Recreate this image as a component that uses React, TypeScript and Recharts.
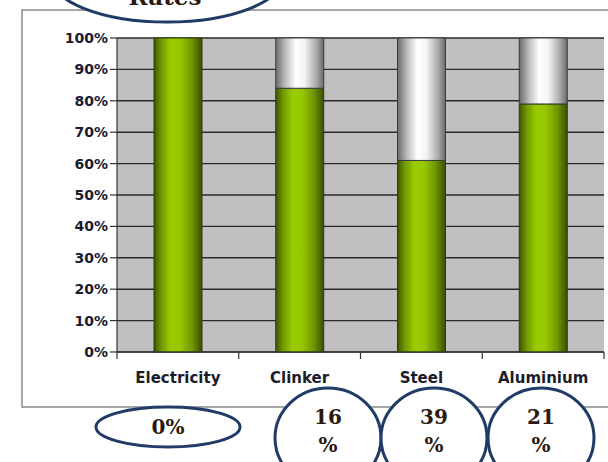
import React from 'react';
import { BarChart, Bar, XAxis, YAxis, CartesianGrid } from 'recharts';

const categories = ['Electricity', 'Clinker', 'Steel', 'Aluminium'];
const greenValues = [100, 84, 61, 79];
const remainderValues = [0, 16, 39, 21];
const yTicks = [0, 10, 20, 30, 40, 50, 60, 70, 80, 90, 100];
const annotationLabels = ['0%', '16', '39', '21'];
const topTitle = 'Rates';

const data = categories.map((name, i) => ({
  name,
  green: greenValues[i],
  rest: remainderValues[i],
}));

const W = 608;
const H = 462;
const sans = "'DejaVu Sans', Verdana, sans-serif";

const CategoryTick = (props: any) => {
  const { x, y, payload, index, visibleTicksCount } = props;
  const off = payload && payload.offset ? payload.offset : 0;
  const isLast = index === (visibleTicksCount ?? categories.length) - 1;
  return (
    <g>
      <line x1={x - off} x2={x - off} y1={y - 7} y2={y} stroke="#333" strokeWidth={1.2} />
      {isLast && <line x1={x + off} x2={x + off} y1={y - 7} y2={y} stroke="#333" strokeWidth={1.2} />}
      <text
        x={x}
        y={y + 24}
        textAnchor="middle"
        fontFamily={sans}
        fontWeight="bold"
        fontSize={15}
        fill="#1c1c28"
      >
        {payload.value}
      </text>
    </g>
  );
};

const serif = "'DejaVu Serif', 'Liberation Serif', serif";
const navy = '#1f3b66';
const txtCol = '#2b1a10';

export default function App() {
  return (
    <div style={{ position: 'absolute', left: 0, top: 0, width: W, height: H, background: '#fff', overflow: 'hidden' }}>
      <svg width={W} height={H} style={{ position: 'absolute', left: 0, top: 0 }}>
        <rect x={22} y={10} width={620} height={397} fill="#fff" stroke="#8a8a8a" strokeWidth={1.5} />
      </svg>
      <div style={{ position: 'absolute', left: 0, top: 0 }}>
        <BarChart
          width={W}
          height={H}
          data={data}
          margin={{ top: 38, right: 4, bottom: 80, left: 57 }}
          barSize={48}
        >
          <defs>
            <linearGradient id="greenCyl" x1="0" y1="0" x2="1" y2="0">
              <stop offset="0%" stopColor="#3f5400" />
              <stop offset="15%" stopColor="#6f9800" />
              <stop offset="35%" stopColor="#99cc00" />
              <stop offset="55%" stopColor="#96c800" />
              <stop offset="80%" stopColor="#6e9400" />
              <stop offset="100%" stopColor="#3a4d00" />
            </linearGradient>
            <linearGradient id="whiteCyl" x1="0" y1="0" x2="1" y2="0">
              <stop offset="0%" stopColor="#6a6a6a" />
              <stop offset="20%" stopColor="#bdbdbd" />
              <stop offset="42%" stopColor="#ffffff" />
              <stop offset="60%" stopColor="#f4f4f4" />
              <stop offset="85%" stopColor="#a8a8a8" />
              <stop offset="100%" stopColor="#6a6a6a" />
            </linearGradient>
          </defs>
          <CartesianGrid
            vertical={false}
            stroke="#2a2a2a"
            strokeWidth={1.4}
            fill="#c0c0c0"
            fillOpacity={1}
          />
          <XAxis
            dataKey="name"
            height={30}
            tickLine={false}
            tickSize={7}
            tickMargin={0}
            axisLine={{ stroke: '#333', strokeWidth: 1.2 }}
            tick={<CategoryTick />}
            interval={0}
          />
          <YAxis
            width={60}
            domain={[0, 100]}
            ticks={yTicks}
            interval={0}
            tickSize={7}
            tickMargin={2}
            tickFormatter={(v: number) => `${v}%`}
            axisLine={{ stroke: '#333', strokeWidth: 1.2 }}
            tickLine={{ stroke: '#333', strokeWidth: 1.2 }}
            tick={{ fontFamily: sans, fontWeight: 'bold', fontSize: 14, fill: '#1c1c30' }}
          />
          <Bar dataKey="green" stackId="a" fill="url(#greenCyl)" stroke="#2f3a10" strokeWidth={1} isAnimationActive={false} />
          <Bar dataKey="rest" stackId="a" fill="url(#whiteCyl)" stroke="#3a3a3a" strokeWidth={1} isAnimationActive={false} />
        </BarChart>
      </div>
      <svg width={W} height={H} style={{ position: 'absolute', left: 0, top: 0, pointerEvents: 'none' }}>
        <ellipse cx={167} cy={-24} rx={117} ry={46} fill="#fff" stroke={navy} strokeWidth={3} />
        <text x={165} y={5} textAnchor="middle" fontFamily={serif} fontWeight="bold" fontSize={23} fill={txtCol}>
          {topTitle}
        </text>
        <ellipse cx={168} cy={427} rx={72} ry={20} fill="#fff" stroke={navy} strokeWidth={3} />
        <text x={168} y={434} textAnchor="middle" fontFamily={serif} fontWeight="bold" fontSize={20} fill={txtCol}>
          {annotationLabels[0]}
        </text>
        {[328, 434, 541].map((cx, i) => (
          <g key={cx}>
            <ellipse cx={cx} cy={438} rx={53} ry={50} fill="#fff" stroke={navy} strokeWidth={3} />
            <text x={cx} y={424} textAnchor="middle" fontFamily={serif} fontWeight="bold" fontSize={20} fill={txtCol}>
              {annotationLabels[i + 1]}
            </text>
            <text x={cx} y={452} textAnchor="middle" fontFamily={serif} fontWeight="bold" fontSize={20} fill={txtCol}>
              %
            </text>
          </g>
        ))}
      </svg>
    </div>
  );
}
